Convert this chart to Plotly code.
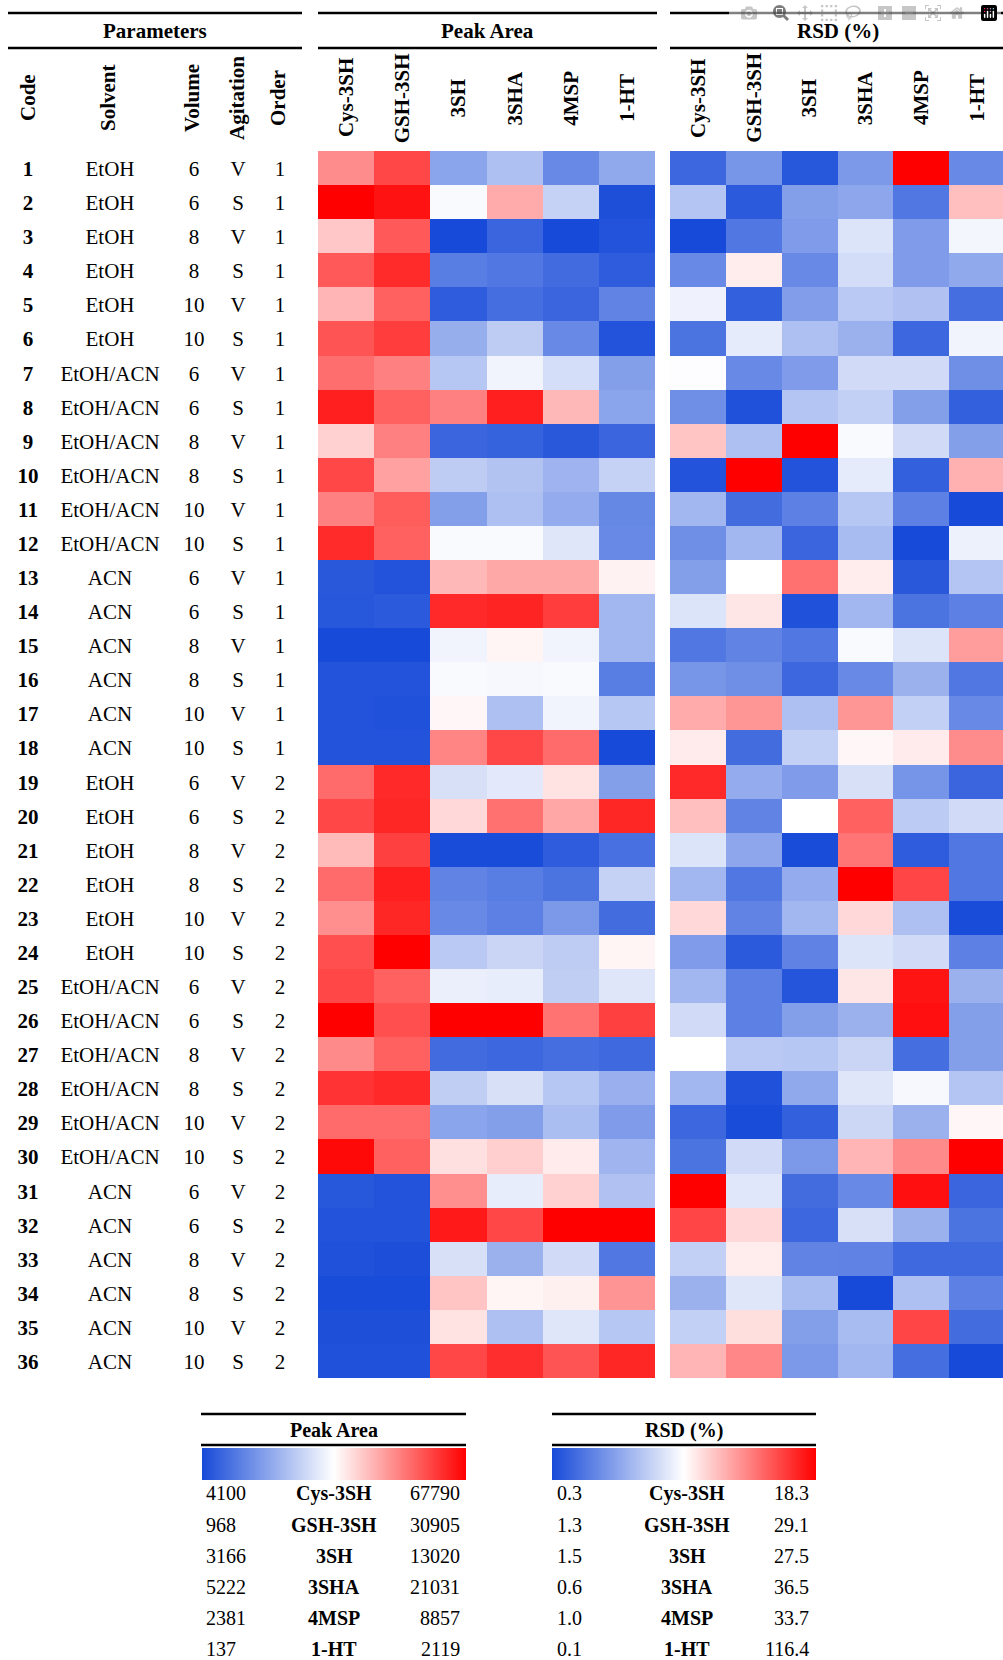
import plotly.graph_objects as go

# the figure fills the 1003x1660 window; positions below are window pixels
PAGE_OFF = 0
W, H = 1003, 1660

# ---------------- data ----------------
compounds = ["Cys-3SH", "GSH-3SH", "3SH", "3SHA", "4MSP", "1-HT"]

codes = [1, 2, 3, 4, 5, 6, 7, 8, 9, 10, 11, 12, 13, 14, 15, 16, 17, 18,
         19, 20, 21, 22, 23, 24, 25, 26, 27, 28, 29, 30, 31, 32, 33, 34, 35, 36]
solvent = ["EtOH", "EtOH", "EtOH", "EtOH", "EtOH", "EtOH",
           "EtOH/ACN", "EtOH/ACN", "EtOH/ACN", "EtOH/ACN", "EtOH/ACN", "EtOH/ACN",
           "ACN", "ACN", "ACN", "ACN", "ACN", "ACN",
           "EtOH", "EtOH", "EtOH", "EtOH", "EtOH", "EtOH",
           "EtOH/ACN", "EtOH/ACN", "EtOH/ACN", "EtOH/ACN", "EtOH/ACN", "EtOH/ACN",
           "ACN", "ACN", "ACN", "ACN", "ACN", "ACN"]
volume = [6, 6, 8, 8, 10, 10, 6, 6, 8, 8, 10, 10, 6, 6, 8, 8, 10, 10,
          6, 6, 8, 8, 10, 10, 6, 6, 8, 8, 10, 10, 6, 6, 8, 8, 10, 10]
agitation = ["V", "S", "V", "S", "V", "S", "V", "S", "V", "S", "V", "S",
             "V", "S", "V", "S", "V", "S", "V", "S", "V", "S", "V", "S",
             "V", "S", "V", "S", "V", "S", "V", "S", "V", "S", "V", "S"]
order = [1, 1, 1, 1, 1, 1, 1, 1, 1, 1, 1, 1, 1, 1, 1, 1, 1, 1,
         2, 2, 2, 2, 2, 2, 2, 2, 2, 2, 2, 2, 2, 2, 2, 2, 2, 2]

# relative level within each compound: -100 = column minimum, +100 = column maximum
pa_cys = [45, 100, 22, 65, 29, 67, 57, 88, 18, 72, 50, 83, -92, -93, -100, -95, -95, -95,
          58, 72, 27, 58, 44, 69, 72, 100, 46, 80, 58, 97, -93, -95, -96, -99, -97, -96]
pa_gsh = [72, 93, 65, 83, 62, 76, 50, 62, 50, 37, 64, 62, -95, -91, -100, -95, -96, -95,
          84, 85, 75, 88, 85, 100, 62, 69, 62, 84, 58, 62, -95, -95, -98, -99, -97, -96]
pa_3sh = [-50, -3, -100, -72, -90, -45, -31, 50, -85, -28, -53, -3, 28, 84, -6, -3, 3, 48,
          -17, 15, -99, -68, -65, -30, -9, 100, -82, -27, -50, 12, 44, 90, -17, 23, 11, 72]
pa_3sha = [-35, 33, -85, -75, -80, -28, -6, 88, -87, -33, -35, -3, 34, 86, 4, -4, -35, 72,
           -12, 56, -99, -72, -70, -23, -10, 100, -84, -17, -53, 19, -10, 72, -43, 4, -35, 82]
pa_4msp = [-65, -25, -100, -82, -85, -65, -18, 28, -92, -42, -46, -14, 34, 76, -6, -3, -6, 58,
           11, 35, -90, -77, -57, -28, -27, 55, -80, -31, -36, 8, 18, 100, -20, 6, -14, 67]
pa_1ht = [-48, -97, -95, -90, -68, -95, -53, -50, -85, -25, -66, -65, 5, -40, -40, -72, -31, -100,
          -53, 85, -79, -25, -81, 4, -14, 75, -83, -44, -55, -41, -34, 100, -75, 42, -31, 85]

rsd_cys = [-84, -32, -100, -65, -7, -77, -1, -62, 23, -95, -40, -62, -53, -15, -75, -58, 33, 8,
           84, 25, -15, -40, 15, -55, -40, -20, 0, -40, -84, -77, 100, 73, -26, -43, -26, 29]
rsd_gsh = [-58, -91, -75, 7, -88, -11, -65, -96, -35, 100, -81, -40, 0, 10, -68, -62, 41, -81,
           -46, -68, -49, -75, -68, -91, -70, -70, -30, -96, -99, -20, -13, 15, 7, -14, 13, 47]
rsd_3sh = [-93, -53, -55, -65, -54, -35, -55, -32, 100, -95, -70, -85, 56, -96, -75, -84, -35, -26,
           -55, 0, -99, -46, -40, -69, -94, -53, -31, -48, -88, -57, -81, -84, -68, -37, -53, -57]
rsd_3sha = [-57, -49, -15, -19, -30, -43, -20, -26, -3, -11, -31, -37, 7, -40, -3, -65, 41, 3,
            -17, 62, 54, 100, 15, -15, 10, -43, -23, -14, -22, 29, -65, -17, -69, -100, -37, -40]
rsd_4msp = [100, -75, -55, -55, -34, -84, -20, -53, -20, -88, -70, -100, -92, -77, -15, -43, -26, 8,
            -59, -29, -90, 73, -35, -20, 92, 94, -80, -4, -43, 46, 94, -43, -83, -35, 73, -80]
rsd_1ht = [-65, 25, -5, -48, -80, -6, -62, -88, -53, 31, -100, -8, -32, -70, 39, -75, -65, 45,
           -85, -20, -75, -75, -99, -70, -43, -53, -53, -32, 3, 100, -85, -77, -83, -70, -81, -100]

pa_min = ["4100", "968", "3166", "5222", "2381", "137"]
pa_max = ["67790", "30905", "13020", "21031", "8857", "2119"]
rsd_min = ["0.3", "1.3", "1.5", "0.6", "1.0", "0.1"]
rsd_max = ["18.3", "29.1", "27.5", "36.5", "33.7", "116.4"]

# ---------------- helpers ----------------
def px(x):
    return (x - PAGE_OFF) / W


def py(y):
    return 1 - (y - PAGE_OFF) / H


FONT = "Liberation Serif"
BLUE = "#174ad8"
colorscale = [[0, BLUE], [0.5, "#ffffff"], [1, "#ff0000"]]

pa_cols = [pa_cys, pa_gsh, pa_3sh, pa_3sha, pa_4msp, pa_1ht]
rsd_cols = [rsd_cys, rsd_gsh, rsd_3sh, rsd_3sha, rsd_4msp, rsd_1ht]
n = len(codes)
rows = list(range(n))
z_pa = [[col[r] for col in pa_cols] for r in rows]
z_rsd = [[col[r] for col in rsd_cols] for r in rows]

fig = go.Figure()


def cbar(x0, x1):
    return dict(orientation="h", x=px(x0), xanchor="left", y=py(1448), yanchor="top",
                len=x1 - x0, lenmode="pixels", thickness=32, thicknessmode="pixels",
                outlinewidth=0, showticklabels=False, ticks="", xpad=0, ypad=0)


fig.add_trace(go.Heatmap(z=z_pa, x=list(range(6)), y=rows, colorscale=colorscale,
                         zmin=-100, zmax=100, xaxis="x", yaxis="y",
                         colorbar=cbar(202, 466), hoverinfo="skip"))
fig.add_trace(go.Heatmap(z=z_rsd, x=list(range(6)), y=rows, colorscale=colorscale,
                         zmin=-100, zmax=100, xaxis="x2", yaxis="y",
                         colorbar=cbar(552, 816), hoverinfo="skip"))

# parameter table as text on its own axis (x in window pixels)
table_cols = [
    (28, ["<b>%d</b>" % c for c in codes]),
    (110, solvent),
    (194, [str(v) for v in volume]),
    (238, agitation),
    (280, [str(o) for o in order]),
]
for xpos, labels in table_cols:
    fig.add_trace(go.Scatter(x=[xpos] * n, y=[r + 0.08 for r in rows], text=labels, mode="text",
                             textposition="middle center",
                             textfont=dict(family=FONT, size=21, color="black"),
                             xaxis="x3", yaxis="y", hoverinfo="skip", showlegend=False))

annotations = []
shapes = []


def hline(x0, x1, y):
    shapes.append(dict(type="line", xref="paper", yref="paper", x0=px(x0), x1=px(x1),
                       y0=py(y), y1=py(y), line=dict(color="black", width=2.5)))


def ann(text, x, y, xref="paper", xanchor="center", angle=0, size=21):
    annotations.append(dict(text=text, x=x, y=y, xref=xref, yref="paper", xanchor=xanchor,
                            yanchor="middle", textangle=angle, showarrow=False,
                            font=dict(family=FONT, size=size, color="black")))


# group headers (RSD block runs to the right edge of the window)
for (x0, x1, title, tx) in [(8, 302, "Parameters", 155), (318, 657, "Peak Area", 487),
                            (670, 1003, "RSD (%)", 838)]:
    hline(x0, x1, 13)
    hline(x0, x1, 48)
    ann("<b>%s</b>" % title, px(tx), py(31))

# rotated column headers
for xpos, name in [(28, "Code"), (108, "Solvent"), (192, "Volume"), (237, "Agitation"), (278, "Order")]:
    ann("<b>%s</b>" % name, px(xpos), py(98), angle=-90)
for i, c in enumerate(compounds):
    ann("<b>%s</b>" % c, i, py(98), xref="x", angle=-90)
    ann("<b>%s</b>" % c, i, py(98), xref="x2", angle=-90)

# legends
legend_rows = [1493, 1525, 1556, 1587, 1618, 1649]
for (x0, x1, title, mins, maxs, lx, cx, rx) in [
        (201, 466, "Peak Area", pa_min, pa_max, 204, 334, 462),
        (552, 816, "RSD (%)", rsd_min, rsd_max, 555, 687, 811)]:
    hline(x0, x1, 1414)
    hline(x0, x1, 1445)
    ann("<b>%s</b>" % title, px((x0 + x1) / 2), py(1430), size=20)
    for yy, c, lo, hi in zip(legend_rows, compounds, mins, maxs):
        ann(lo, px(lx), py(yy), xanchor="left", size=20)
        ann("<b>%s</b>" % c, px(cx), py(yy), size=20)
        ann(hi, px(rx), py(yy), xanchor="right", size=20)

fig.update_layout(
    width=W, height=H, margin=dict(l=0, r=0, t=0, b=0, autoexpand=False),
    paper_bgcolor="white", plot_bgcolor="white", showlegend=False,
    xaxis=dict(domain=[px(318), px(655)], range=[-0.5, 5.5], visible=False, anchor="y"),
    xaxis2=dict(domain=[px(670), 1.0], range=[-0.5, 5.47], visible=False, anchor="y"),
    xaxis3=dict(domain=[0, px(300)], range=[0, 300], visible=False, anchor="y"),
    yaxis=dict(domain=[py(1378), py(151)], range=[n - 0.5, -0.5], visible=False),
    annotations=annotations, shapes=shapes,
)

# remove the default page margin so the figure sits exactly in the window
fig.write_html("out.html",
               post_script="document.body.style.margin='0';"
                           "document.documentElement.style.overflow='hidden';")
